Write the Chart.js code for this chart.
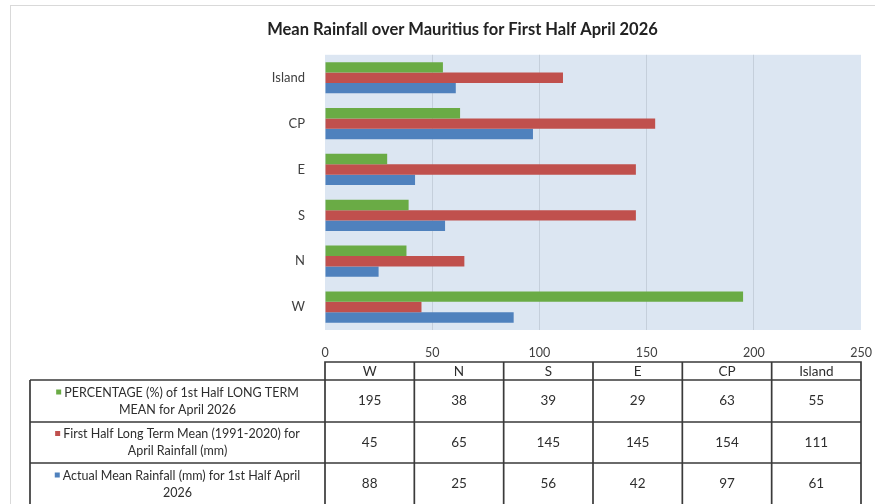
<!DOCTYPE html>
<html>
<head>
<meta charset="utf-8">
<script src="https://cdn.jsdelivr.net/npm/chart.js@4.4.1/dist/chart.umd.min.js"></script>
<style>
  html, body { margin: 0; padding: 0; background: #ffffff; }
  #wrap { position: relative; width: 875px; height: 504px; }
</style>
</head>
<body>
<div id="wrap"><canvas id="c" width="875" height="504"></canvas></div>
<script>
const titleText = 'Mean Rainfall over Mauritius for First Half April 2026';
const categories = ['W', 'N', 'S', 'E', 'CP', 'Island'];
const percentage = [195, 38, 39, 29, 63, 55];
const longTermMean = [45, 65, 145, 145, 154, 111];
const actualMean = [88, 25, 56, 42, 97, 61];
const seriesLabels = [
  ['PERCENTAGE (%) of 1st Half LONG TERM', 'MEAN for April 2026'],
  ['First Half Long Term Mean (1991-2020) for', 'April Rainfall (mm)'],
  ['Actual Mean Rainfall (mm) for 1st Half April', '2026']
];
const xMin = 0, xMax = 250, xStep = 50;

const colors = ['#6aab45', '#c0504d', '#4f81bd'];
const FONT = 'Lato, "Open Sans", "Liberation Sans", sans-serif';

const bgPlugin = {
  id: 'bg',
  beforeDraw(chart) {
    const { ctx, chartArea: a } = chart;
    ctx.save();
    ctx.fillStyle = '#ffffff';
    ctx.fillRect(0, 0, chart.width, chart.height);
    ctx.strokeStyle = '#d9d9d9';
    ctx.lineWidth = 1;
    ctx.strokeRect(10.5, 5.5, 900, 600);
    ctx.fillStyle = '#dce6f2';
    ctx.fillRect(a.left, a.top, a.right - a.left, a.bottom - a.top);
    ctx.restore();
  }
};

const tablePlugin = {
  id: 'table',
  afterDraw(chart) {
    const { ctx, chartArea: a } = chart;
    const data = chart.data.datasets.map(d => d.data);
    const n = chart.data.labels.length;
    const colW = (a.right - a.left) / n;
    const headTop = 362, rowTops = [380, 422, 463], rowBottom = 506;
    const labelLeft = 30;
    ctx.save();
    ctx.strokeStyle = '#3a3a3a';
    ctx.lineWidth = 1.7;
    ctx.beginPath();
    ctx.rect(a.left, headTop, a.right - a.left, rowTops[0] - headTop);
    for (let i = 1; i < n; i++) {
      const x = a.left + colW * i;
      ctx.moveTo(x, headTop); ctx.lineTo(x, rowBottom);
    }
    rowTops.forEach(t => { ctx.moveTo(labelLeft, t); ctx.lineTo(a.right, t); });
    ctx.moveTo(labelLeft, rowTops[0]); ctx.lineTo(labelLeft, rowBottom);
    ctx.moveTo(a.left, rowTops[0]); ctx.lineTo(a.left, rowBottom);
    ctx.moveTo(a.right, headTop); ctx.lineTo(a.right, rowBottom);
    ctx.stroke();

    ctx.fillStyle = '#2e2e2e';
    ctx.textAlign = 'center';
    ctx.textBaseline = 'middle';
    ctx.font = '13.5px ' + FONT;
    chart.data.labels.forEach((lab, i) => {
      ctx.fillText(lab, a.left + colW * (i + 0.5), (headTop + rowTops[0]) / 2 + 1);
    });
    rowTops.forEach((t, r) => {
      const b = r < rowTops.length - 1 ? rowTops[r + 1] : 505;
      const cy = (t + b) / 2;
      data[r].forEach((v, i) => {
        ctx.fillStyle = '#2e2e2e';
        ctx.font = '13.5px ' + FONT;
        ctx.fillText(String(v), a.left + colW * (i + 0.5), cy);
      });
      const lines = chart.data.datasets[r].tableLines;
      const cx = (labelLeft + a.left) / 2;
      ctx.font = '12.5px ' + FONT;
      lines.forEach((ln, k) => {
        const y = cy + (k - (lines.length - 1) / 2) * 17;
        const w = ctx.measureText(ln).width;
        let x = cx;
        if (k === 0) {
          const total = w + 8;
          const startX = cx - total / 2;
          ctx.fillStyle = chart.data.datasets[r].backgroundColor;
          ctx.fillRect(startX, y - 3, 5, 5);
          x = startX + 8 + w / 2;
        }
        ctx.fillStyle = '#2e2e2e';
        ctx.fillText(ln, x, y);
      });
    });
    ctx.restore();
  }
};

new Chart(document.getElementById('c'), {
  type: 'bar',
  data: {
    labels: categories,
    datasets: [
      { label: seriesLabels[0].join(' '), tableLines: seriesLabels[0], data: percentage, backgroundColor: colors[0] },
      { label: seriesLabels[1].join(' '), tableLines: seriesLabels[1], data: longTermMean, backgroundColor: colors[1] },
      { label: seriesLabels[2].join(' '), tableLines: seriesLabels[2], data: actualMean, backgroundColor: colors[2] }
    ]
  },
  options: {
    indexAxis: 'y',
    responsive: false,
    animation: false,
    devicePixelRatio: 1,
    categoryPercentage: 0.68,
    barPercentage: 1.0,
    layout: { padding: { left: 55, right: 5, top: 6, bottom: 144 } },
    plugins: {
      legend: { display: false },
      tooltip: { enabled: false },
      title: {
        display: true,
        text: titleText,
        color: '#222222',
        font: { family: FONT, size: 16.5, weight: 'bold' },
        padding: { top: 14, bottom: 15 }
      }
    },
    scales: {
      y: {
        reverse: true,
        grid: { display: false },
        border: { display: false },
        ticks: { color: '#404040', font: { family: FONT, size: 13 }, padding: 12 },
        afterFit(scale) { scale.width = 270; }
      },
      x: {
        min: xMin, max: xMax,
        ticks: { stepSize: xStep, color: '#404040', font: { family: FONT, size: 12.5 }, padding: 15 },
        grid: {
          color: ctx => (ctx.tick && (ctx.tick.value === xMin || ctx.tick.value === xMax)) ? 'rgba(0,0,0,0)' : '#c5cfdb',
          drawTicks: false
        },
        border: { display: false },
        afterFit(scale) { scale.height = 30; scale.paddingRight = 14; scale.paddingLeft = 0; }
      }
    }
  },
  plugins: [bgPlugin, tablePlugin]
});
</script>
</body>
</html>
